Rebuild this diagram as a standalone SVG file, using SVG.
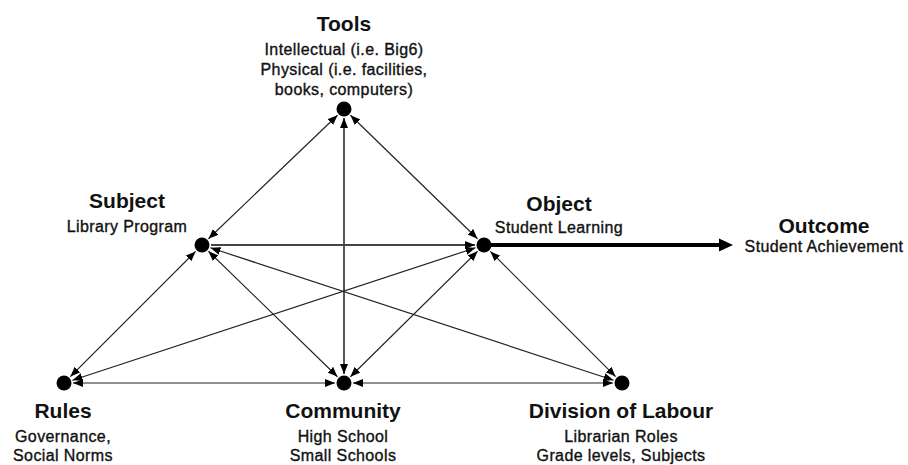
<svg xmlns="http://www.w3.org/2000/svg" width="908" height="465" viewBox="0 0 908 465">
<style>
.t{font-family:"Liberation Sans",Arial,sans-serif;font-weight:bold;font-size:21px;fill:#111;text-anchor:middle}
.s{font-family:"Liberation Sans",Arial,sans-serif;font-size:16px;letter-spacing:0.4px;fill:#111;stroke:#111;stroke-width:0.35;text-anchor:middle}
.dot{fill:#000}
.c{stroke:#222;stroke-width:1.2;fill:none;marker-end:url(#ah);marker-start:url(#ah)}
.g{stroke:#444;stroke-width:1.8}
</style>
<defs>
<marker id="ah" markerUnits="userSpaceOnUse" markerWidth="11" markerHeight="9" refX="10" refY="4" orient="auto-start-reverse">
<path d="M0,0 L10,4 L0,8 z" fill="#000"/>
</marker>
</defs>
<rect width="908" height="465" fill="#fff"/>
<g id="connectors">
<line class="c" x1="337.5" y1="115.2" x2="208.5" y2="238.8"/>
<line class="c" x1="350.5" y1="115.3" x2="477.5" y2="238.7"/>
<line class="c g" x1="344" y1="118" x2="344" y2="374"/>
<line class="c g" x1="211" y1="245" x2="475" y2="245" style="marker-start:none"/>
<line class="c" x1="195.6" y1="251.4" x2="70.4" y2="376.6"/>
<line class="c" x1="208.5" y1="251.3" x2="337.5" y2="376.7"/>
<line class="c" x1="210.5" y1="247.8" x2="613.5" y2="380.2"/>
<line class="c" x1="475.5" y1="247.8" x2="72.5" y2="380.2"/>
<line class="c" x1="477.6" y1="251.3" x2="350.4" y2="376.7"/>
<line class="c" x1="490.4" y1="251.4" x2="615.6" y2="376.6"/>
<line class="c" x1="73" y1="383" x2="335" y2="383"/>
<line class="c" x1="353" y1="383" x2="613" y2="383"/>
<line x1="484" y1="245" x2="722" y2="245" stroke="#000" stroke-width="4"/>
<path d="M719,238.5 L733,245 L719,251.5 z" fill="#000"/>
</g>
<g id="tools">
<circle class="dot" cx="344" cy="109" r="7.5"/>
<text class="t" x="344" y="31">Tools</text>
<text class="s" x="344" y="55">Intellectual (i.e. Big6)</text>
<text class="s" x="344" y="75">Physical (i.e. facilities,</text>
<text class="s" x="344" y="95">books, computers)</text>
</g>
<g id="subject">
<circle class="dot" cx="202" cy="245" r="7.5"/>
<text class="t" x="127" y="208">Subject</text>
<text class="s" x="127" y="232">Library Program</text>
</g>
<g id="object">
<circle class="dot" cx="484" cy="245" r="7.5"/>
<text class="t" x="559" y="211">Object</text>
<text class="s" x="559" y="233">Student Learning</text>
</g>
<g id="outcome">
<text class="t" x="824" y="233">Outcome</text>
<text class="s" x="824" y="252">Student Achievement</text>
</g>
<g id="rules">
<circle class="dot" cx="64" cy="383" r="7.5"/>
<text class="t" x="63" y="418">Rules</text>
<text class="s" x="63" y="442">Governance,</text>
<text class="s" x="63" y="461">Social Norms</text>
</g>
<g id="community">
<circle class="dot" cx="344" cy="383" r="7.5"/>
<text class="t" x="343" y="418">Community</text>
<text class="s" x="343" y="442">High School</text>
<text class="s" x="343" y="461">Small Schools</text>
</g>
<g id="division">
<circle class="dot" cx="622" cy="383" r="7.5"/>
<text class="t" x="621" y="418">Division of Labour</text>
<text class="s" x="621" y="442">Librarian Roles</text>
<text class="s" x="621" y="461">Grade levels, Subjects</text>
</g>
</svg>
